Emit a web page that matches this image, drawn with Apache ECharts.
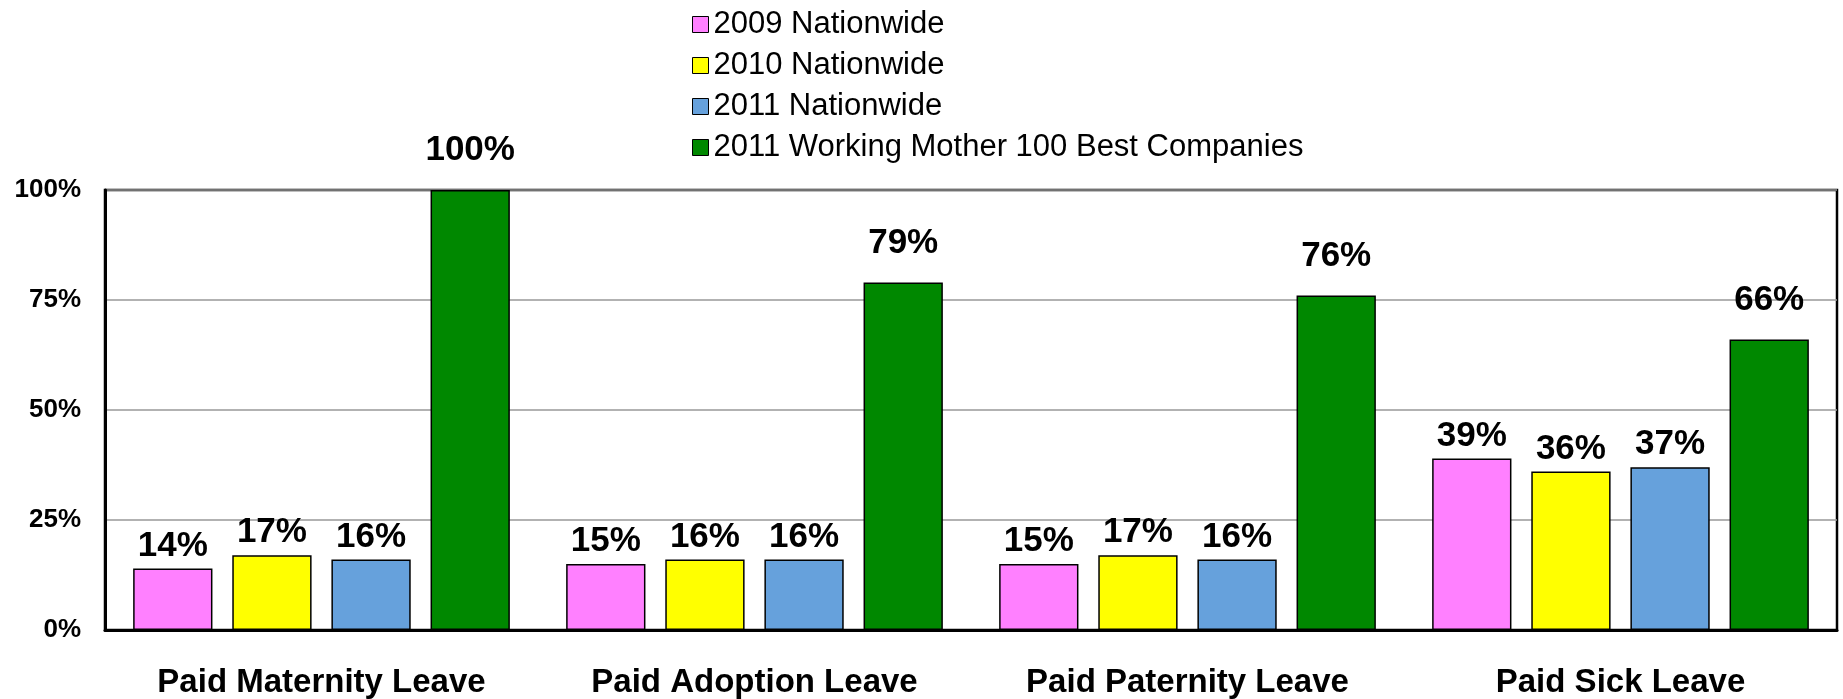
<!DOCTYPE html>
<html lang="en">

<head>
  <meta charset="UTF-8">
  <title>Paid Leave</title>
  <script src="https://cdn.jsdelivr.net/npm/echarts@6.0.0/dist/echarts.min.js"></script>
  <style>
    body { margin: 0; background: #fff; }
  </style>
</head>

<body>
  <div id="main" style="width: 1843px;height:699px;"></div>

  <script type="text/javascript">
    // Chart data
    const categories = ['Paid Maternity Leave', 'Paid Adoption Leave', 'Paid Paternity Leave', 'Paid Sick Leave'];
    const seriesNames = ['2009 Nationwide', '2010 Nationwide', '2011 Nationwide', '2011 Working Mother 100 Best Companies'];
    const nationwide2009 = [14, 15, 15, 39];
    const nationwide2010 = [17, 16, 17, 36];
    const nationwide2011 = [16, 16, 16, 37];
    const bestCompanies2011 = [100, 79, 76, 66];
    const yTicks = [0, 25, 50, 75, 100];

    const colors = ['#FF80FF', '#FFFF00', '#66A1DC', '#008800'];
    const values = [nationwide2009, nationwide2010, nationwide2011, bestCompanies2011];

    let myChart = echarts.init(document.getElementById('main'));

    const series = seriesNames.map((name, i) => ({
      name: name,
      type: 'bar',
      data: values[i],
      barGap: '25%',
      barCategoryGap: '13%',
      itemStyle: { color: colors[i], borderColor: '#000', borderWidth: 1.5 },
      label: {
        show: true,
        position: 'top',
        distance: i === 3 ? 22 : 5,
        formatter: '{c}%',
        fontSize: 35,
        fontWeight: 'bold',
        color: '#000'
      }
    }));

    const options = {
      animation: false,
      textStyle: { fontFamily: 'Liberation Sans, Arial, sans-serif' },
      legend: {
        orient: 'vertical',
        left: 687,
        top: 4,
        itemWidth: 16,
        itemHeight: 16,
        itemGap: 10,
        icon: 'rect',
        itemStyle: { borderColor: '#000', borderWidth: 1 },
        textStyle: { fontSize: 31, color: '#000' },
        data: seriesNames
      },
      grid: {
        left: 105,
        right: 6,
        top: 190,
        bottom: 64,
        show: true,
        borderColor: '#000',
        borderWidth: 2.5
      },
      xAxis: {
        type: 'category',
        data: categories,
        axisLine: { lineStyle: { color: '#000', width: 3 } },
        axisTick: { show: false },
        axisLabel: {
          margin: 36,
          fontSize: 33,
          fontWeight: 'bold',
          color: '#000'
        }
      },
      yAxis: {
        type: 'value',
        min: yTicks[0],
        max: yTicks[yTicks.length - 1],
        interval: 25,
        axisLine: { show: true, lineStyle: { color: '#000', width: 3 } },
        axisTick: { show: false },
        splitLine: { lineStyle: { color: '#999', width: 1.5 } },
        axisLabel: {
          margin: 24,
          fontSize: 26,
          fontWeight: 'bold',
          color: '#000',
          formatter: '{value}%'
        }
      },
      series: series
    };

    myChart.setOption(options);
  </script>
</body>

</html>
